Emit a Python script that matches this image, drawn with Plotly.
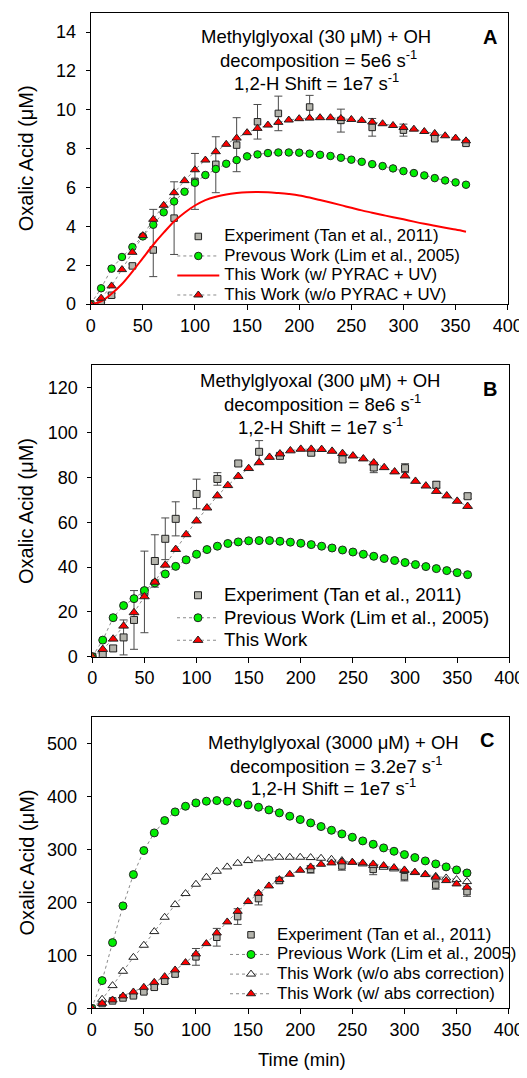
import plotly.graph_objects as go

FONT = "Liberation Sans, Arial, sans-serif"

# ---------------- Panel A data ----------------
tA_model = list(range(0, 361, 10))
prevA = [0, 0.81, 1.82, 2.42, 2.93, 3.48, 4.08, 4.72, 5.28, 5.78, 6.24, 6.64, 6.95, 7.22, 7.41,
         7.60, 7.70, 7.77, 7.80, 7.80, 7.79, 7.74, 7.68, 7.62, 7.53, 7.43, 7.32, 7.20, 7.10,
         6.98, 6.84, 6.74, 6.62, 6.48, 6.36, 6.26, 6.14]
woA = [0, 0.30, 0.93, 1.77, 2.66, 3.52, 4.36, 5.08, 5.73, 6.35, 6.91, 7.41, 7.84, 8.22, 8.54,
       8.82, 9.04, 9.21, 9.35, 9.47, 9.54, 9.57, 9.59, 9.59, 9.55, 9.50, 9.45, 9.37, 9.28,
       9.19, 9.09, 9.00, 8.88, 8.78, 8.66, 8.54, 8.40]
pyracA = [0, 0.14, 0.53, 1.03, 1.67, 2.36, 3.05, 3.67, 4.25, 4.70, 5.07, 5.35, 5.52, 5.64, 5.71,
          5.75, 5.76, 5.75, 5.71, 5.66, 5.59, 5.48, 5.35, 5.22, 5.09, 4.95, 4.82, 4.70, 4.58,
          4.47, 4.36, 4.24, 4.13, 4.03, 3.93, 3.83, 3.72]
tA_exp = [0, 10, 20, 40, 60, 80, 100, 120, 140, 160, 180, 210, 240, 270, 300, 330, 360]
expA = [0, 0.03, 0.45, 1.96, 2.78, 4.42, 6.31, 7.19, 8.18, 9.38, 9.81, 10.14, 9.45, 9.09, 8.95, 8.51, 8.27]
errA_plus = [0, 0.05, 0.1, 0.1, 2.09, 1.87, 1.44, 1.42, 1.41, 0.89, 0.89, 0.60, 0.58, 0.46, 0.31, 0.1, 0.1]
errA_minus = [0, 0.05, 0.1, 0.1, 1.37, 1.87, 1.44, 1.46, 1.37, 0.89, 0.89, 0.60, 0.60, 0.45, 0.31, 0.1, 0.1]

# ---------------- Panel B data ----------------
tB_model = list(range(0, 361, 10))
prevB = [0, 7.4, 17.4, 22.8, 25.9, 29.5, 32.9, 36.9, 40.3, 43.2, 45.7, 47.8, 49.3, 50.5, 51.2,
         51.7, 51.8, 51.8, 51.5, 51.1, 50.6, 50.0, 49.3, 48.5, 47.6, 46.7, 45.7, 44.8, 43.8,
         42.9, 42.0, 41.1, 40.2, 39.3, 38.4, 37.5, 36.6]
thisB = [0, 3.3, 7.9, 13.7, 19.7, 26.8, 33.3, 40.9, 47.9, 54.5, 60.6, 66.4, 71.8, 76.4, 80.5,
         84.0, 86.6, 89.0, 90.5, 91.9, 92.6, 92.6, 92.5, 91.7, 90.7, 89.6, 88.3, 86.5, 84.4,
         82.5, 80.7, 78.3, 76.2, 73.8, 71.8, 69.4, 67.1]
tB_exp = [0, 10, 20, 30, 40, 50, 60, 70, 80, 100, 120, 140, 160, 180, 210, 240, 270, 300, 330, 360]
expB = [0, 0.8, 3.7, 8.6, 16.4, 28.9, 42.7, 52.6, 61.5, 72.6, 79.3, 86.2, 91.4, 89.6, 91.0, 88.0, 84.4, 84.1, 76.7, 71.6]
errB = [0, 0.8, 1.2, 7.8, 13.1, 18.2, 11.7, 9.3, 7.6, 6.6, 2.8, 1.0, 5.0, 1.0, 1.0, 1.0, 2.3, 2.0, 1.5, 1.0]

# ---------------- Panel C data ----------------
tC_model = list(range(0, 361, 10))
prevC = [0, 52.2, 123.9, 193.1, 252.2, 297.5, 330.8, 354.1, 370.4, 381.1, 387.4, 390.6, 391.8,
         390.6, 387.4, 383.6, 379.2, 374.2, 368.6, 362.3, 356.0, 349.7, 342.8, 335.8, 328.9,
         322.6, 315.7, 309.4, 302.5, 296.2, 289.9, 284.3, 278.0, 272.3, 266.7, 261.0, 255.3]
woC = [0, 17.0, 42.8, 69.8, 96.2, 118.9, 144.7, 171.7, 195.6, 216.4, 234.0, 247.2, 258.5,
       266.7, 273.6, 278.6, 281.8, 283.6, 284.9, 284.9, 284.9, 284.3, 283.0, 281.1, 278.6,
       275.5, 272.3, 269.2, 266.0, 262.9, 259.7, 256.0, 252.8, 249.0, 245.9, 242.8, 239.0]
wC = [0, 9.4, 15.7, 23.3, 30.8, 39.6, 49.0, 59.7, 72.3, 86.2, 102.5, 122.0, 142.1, 162.9,
      183.0, 201.3, 217.0, 230.8, 242.8, 252.8, 260.4, 266.7, 271.7, 274.2, 276.1, 275.5,
      274.2, 272.3, 269.2, 265.4, 261.0, 256.6, 252.2, 247.2, 240.9, 234.6, 228.3]
tC_exp = [0, 10, 20, 30, 40, 50, 60, 70, 80, 100, 120, 140, 160, 180, 210, 240, 270, 300, 330, 360]
expC = [0, 9.0, 14.0, 19.5, 23.5, 31.0, 39.6, 51.0, 64.5, 97.0, 134.0, 173.0, 207.0, 241.0, 262.0, 268.5, 262.0, 248.3, 232.5, 220.0]
errC = [0, 2, 2, 2, 2, 3, 3, 4, 4, 15.8, 16.7, 14.8, 12.0, 5.0, 7.0, 8.0, 10.0, 8.0, 8.0, 8.8]

x_ticks = [0, 50, 100, 150, 200, 250, 300, 350, 400]
yA_ticks = [0, 2, 4, 6, 8, 10, 12, 14]
yB_ticks = [0, 20, 40, 60, 80, 100, 120]
yC_ticks = [0, 100, 200, 300, 400, 500]

info_lines = {
    "A": ["Methylglyoxal (30 μM) + OH", "decomposition = 5e6 s<sup>-1</sup>", "1,2-H Shift = 1e7 s<sup>-1</sup>"],
    "B": ["Methylglyoxal (300 μM) + OH", "decomposition = 8e6 s<sup>-1</sup>", "1,2-H Shift = 1e7 s<sup>-1</sup>"],
    "C": ["Methylglyoxal (3000 μM) + OH", "decomposition = 3.2e7 s<sup>-1</sup>", "1,2-H Shift = 1e7 s<sup>-1</sup>"],
}

GRAY_FILL = "#b4b4ac"
EDGE = "#222222"
DOT = dict(color="#8a8a8a", width=1, dash="dot")
ERRC = "#4a4a4a"

# page body has an 8px margin; size the figure so the page does not scroll
OFF = 8
W, H = 527 - OFF, 1078 - 2 * OFF


def fx(px):
    return (px - OFF) / W


def fy(py):
    return 1 - (py - OFF) / H


def span(txt, fs):
    return f'<span style="font-size:{fs}px">{txt}</span>'


fig = go.Figure()


def add_exp(t, v, ep, em, xa, ya, leg, fs, size):
    fig.add_trace(go.Scatter(
        x=t, y=v, mode="markers", xaxis=xa, yaxis=ya, legend=leg,
        name=span("Experiment (Tan et al., 2011)", fs),
        marker=dict(symbol="square", size=size, color=GRAY_FILL, line=dict(color=EDGE, width=1)),
        error_y=dict(type="data", array=ep, arrayminus=em, symmetric=False,
                     color=ERRC, thickness=1, width=4)))


LA = 16.8
LB = 18.6
LC = 16.8

# Panel A
add_exp(tA_exp, expA, errA_plus, errA_minus, "x", "y", "legend", LA, 6.5)
fig.add_trace(go.Scatter(x=tA_model, y=prevA, mode="lines+markers", xaxis="x", yaxis="y", legend="legend",
                         name=span("Prevous Work (Lim et al., 2005)", LA), line=DOT,
                         marker=dict(symbol="circle", size=7.5, color="#00ee00", line=dict(color=EDGE, width=1))))
fig.add_trace(go.Scatter(x=tA_model, y=pyracA, mode="lines", xaxis="x", yaxis="y", legend="legend",
                         name=span("This Work (w/ PYRAC + UV)", LA),
                         line=dict(color="#ff0000", width=2, shape="spline")))
fig.add_trace(go.Scatter(x=tA_model, y=woA, mode="lines+markers", xaxis="x", yaxis="y", legend="legend",
                         name=span("This Work (w/o PYRAC + UV)", LA), line=DOT,
                         marker=dict(symbol="triangle-up", size=8, color="#ff0000", line=dict(color=EDGE, width=1))))

# Panel B
add_exp(tB_exp, expB, errB, errB, "x2", "y2", "legend2", LB, 7)
fig.add_trace(go.Scatter(x=tB_model, y=prevB, mode="lines+markers", xaxis="x2", yaxis="y2", legend="legend2",
                         name=span("Previous Work (Lim et al., 2005)", LB), line=DOT,
                         marker=dict(symbol="circle", size=8, color="#00ee00", line=dict(color=EDGE, width=1))))
fig.add_trace(go.Scatter(x=tB_model, y=thisB, mode="lines+markers", xaxis="x2", yaxis="y2", legend="legend2",
                         name=span("This Work", LB), line=DOT,
                         marker=dict(symbol="triangle-up", size=8.5, color="#ff0000", line=dict(color=EDGE, width=1))))

# Panel C
add_exp(tC_exp, expC, errC, errC, "x3", "y3", "legend3", LC, 6.5)
fig.add_trace(go.Scatter(x=tC_model, y=prevC, mode="lines+markers", xaxis="x3", yaxis="y3", legend="legend3",
                         name=span("Previous Work (Lim et al., 2005)", LC), line=DOT,
                         marker=dict(symbol="circle", size=8, color="#00ee00", line=dict(color=EDGE, width=1))))
fig.add_trace(go.Scatter(x=tC_model, y=woC, mode="lines+markers", xaxis="x3", yaxis="y3", legend="legend3",
                         name=span("This Work (w/o abs correction)", LC), line=DOT,
                         marker=dict(symbol="triangle-up", size=8, color="#ffffff", line=dict(color=EDGE, width=1))))
fig.add_trace(go.Scatter(x=tC_model, y=wC, mode="lines+markers", xaxis="x3", yaxis="y3", legend="legend3",
                         name=span("This Work (w/ abs correction)", LC), line=DOT,
                         marker=dict(symbol="triangle-up", size=8, color="#ff0000", line=dict(color=EDGE, width=1))))


tickfont = dict(family=FONT, size=18, color="black")
common_x = dict(range=[0, 400], tickvals=x_ticks, ticks="outside", ticklen=5, tickwidth=1, tickcolor="black",
                showline=True, linecolor="black", linewidth=1, mirror=True, showgrid=False, zeroline=False,
                tickfont=tickfont, fixedrange=True, automargin=False, ticklabeloverflow="allow")
common_y = dict(ticks="outside", ticklen=4, tickwidth=1, tickcolor="black", showline=True, linecolor="black",
                linewidth=1, mirror=True, showgrid=False, zeroline=False, tickfont=tickfont,
                ticklabelstandoff=6, fixedrange=True, automargin=False, ticklabeloverflow="allow")

legend_common = dict(bgcolor="rgba(0,0,0,0)", borderwidth=0, itemwidth=42, xanchor="left", yanchor="top",
                     itemclick=False, itemdoubleclick=False, tracegroupgap=0)

fig.update_layout(
    template="none",
    width=W, height=H, margin=dict(l=0, r=0, t=0, b=0, autoexpand=False),
    paper_bgcolor="white", plot_bgcolor="white",
    font=dict(family=FONT, color="black"),
    showlegend=True,
    xaxis=dict(common_x, domain=[fx(90.7), fx(507.7)], anchor="y"),
    yaxis=dict(common_y, domain=[fy(304), fy(12.6)], range=[0, 15], tickvals=yA_ticks, anchor="x"),
    xaxis2=dict(common_x, domain=[fx(92.3), fx(509.3)], anchor="y2"),
    yaxis2=dict(common_y, domain=[fy(656.7), fy(365.3)], range=[0, 130], tickvals=yB_ticks, anchor="x2"),
    xaxis3=dict(common_x, domain=[fx(91.7), fx(508.7)], anchor="y3"),
    yaxis3=dict(common_y, domain=[fy(1008.3), fy(716.7)], range=[0, 550], tickvals=yC_ticks, anchor="x3"),
    legend=dict(legend_common, x=fx(172.3), y=fy(221.7), font=dict(family=FONT, size=12.7, color="black")),
    legend2=dict(legend_common, x=fx(172), y=fy(579), font=dict(family=FONT, size=15, color="black")),
    legend3=dict(legend_common, x=fx(225), y=fy(920), font=dict(family=FONT, size=12.8, color="black")),
)

ann_font = dict(family=FONT, size=18.5, color="black")
info_pos = {
    "A": [(315.8, 36.7), (318, 59.3), (316, 81.7)],
    "B": [(320, 380.7), (322.5, 403.3), (320.5, 426)],
    "C": [(333.8, 742.3), (336, 765), (333.8, 787.3)],
}
for key in ["A", "B", "C"]:
    for txt, (x, y) in zip(info_lines[key], info_pos[key]):
        fig.add_annotation(text=txt, xref="paper", yref="paper", x=fx(x), y=fy(y), showarrow=False,
                           xanchor="center", yanchor="middle", align="center", font=ann_font)

for letter, x, y in [("A", 490, 37), ("B", 490, 389), ("C", 487, 740)]:
    fig.add_annotation(text=f"<b>{letter}</b>", xref="paper", yref="paper", x=fx(x), y=fy(y),
                       showarrow=False, xanchor="center", yanchor="middle",
                       font=dict(family=FONT, size=20, color="black"))

for yc in [158.3, 511, 862.5]:
    fig.add_annotation(text="Oxalic Acid (μM)", xref="paper", yref="paper", x=fx(26), y=fy(yc),
                       showarrow=False, textangle=-90, xanchor="center", yanchor="middle",
                       font=dict(family=FONT, size=20, color="black"))

fig.add_annotation(text="Time (min)", xref="paper", yref="paper", x=fx(302), y=fy(1059),
                   showarrow=False, xanchor="center", yanchor="middle",
                   font=dict(family=FONT, size=18.5, color="black"))

fig.write_html("out.html")
